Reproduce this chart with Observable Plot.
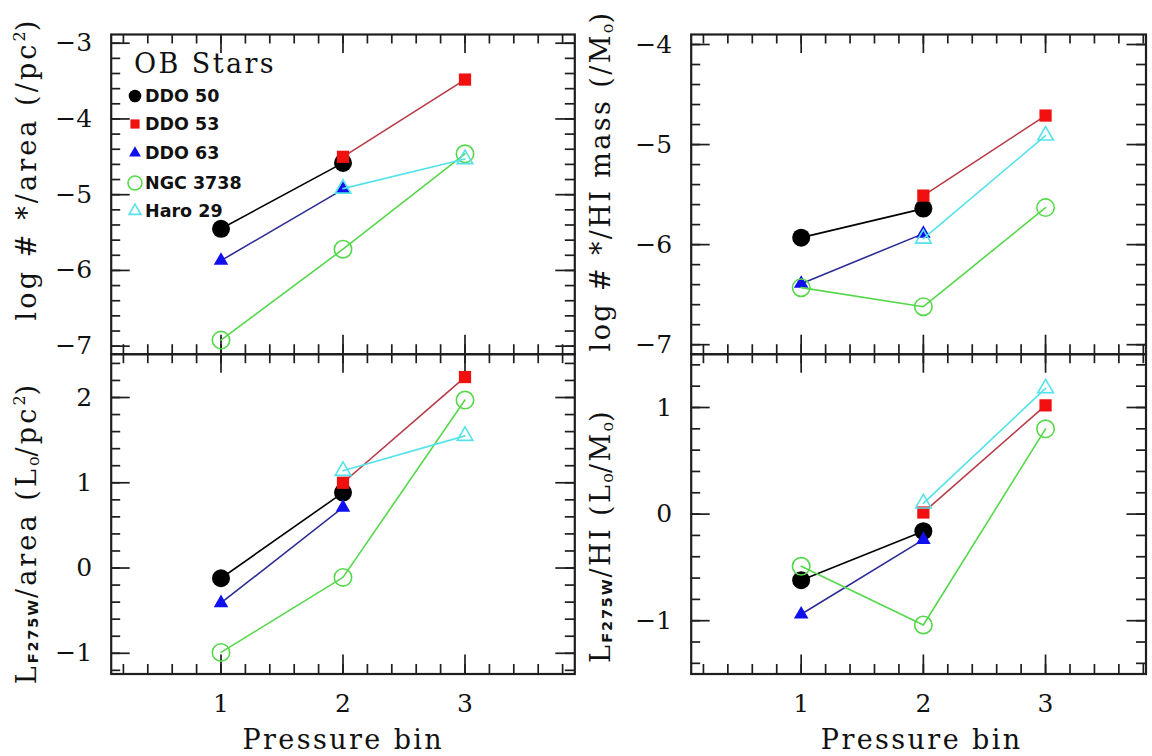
<!DOCTYPE html>
<html><head><meta charset="utf-8">
<script src="https://cdn.jsdelivr.net/npm/d3@7"></script>
<script src="https://cdn.jsdelivr.net/npm/@observablehq/plot@0.6"></script>
<style>
html,body{margin:0;padding:0;background:#fff;}
#fig{position:relative;width:1152px;height:756px;overflow:hidden;background:#fff;}
#fig svg{position:absolute;left:0;top:0;}
.ytitle{position:absolute;font-family:"DejaVu Serif";font-size:27px;letter-spacing:2.4px;line-height:1;white-space:nowrap;transform-origin:0 0;transform:rotate(-90deg) translateX(-50%);color:#111;}
.ytitle.wide{letter-spacing:3.1px;}
.xtitle{position:absolute;font-family:"DejaVu Serif";font-size:27px;letter-spacing:2.4px;line-height:1;white-space:nowrap;transform:translateX(-50%);color:#111;}
.sub{position:relative;font-size:16px;letter-spacing:0;top:3px;}
.sup{position:relative;font-size:16px;letter-spacing:0;top:-11px;}
.fsub{position:relative;font-family:"DejaVu Sans";font-weight:bold;font-size:14.5px;letter-spacing:1.8px;top:2px;}
.leg{position:absolute;left:125px;height:20px;display:flex;align-items:center;font-family:"DejaVu Sans";font-weight:bold;font-size:17.5px;color:#111;white-space:nowrap;}
.leg svg{position:static !important;}
#obstars{position:absolute;left:134px;top:50px;font-family:"DejaVu Serif";font-size:27px;letter-spacing:2.4px;line-height:1;color:#111;white-space:nowrap;}
</style></head>
<body><div id="fig"></div>
<script>
// ---------- data ----------
const galaxies = ["DDO 50", "DDO 53", "DDO 63", "NGC 3738", "Haro 29"];
const pressureBins = [1, 2, 3];
// log # OB stars / area (/pc^2), per galaxy, per pressure bin
const starsPerArea = [
  [-5.45, -4.58, null],
  [null, -4.50, -3.48],
  [-5.87, -4.93, null],
  [-6.92, -5.72, -4.46],
  [null, -4.92, -4.53]
];
// log # OB stars / HI mass (/Msun)
const starsPerHI = [
  [-5.93, -5.64, null],
  [null, -5.51, -4.71],
  [-6.39, -5.89, null],
  [-6.43, -6.62, -5.63],
  [null, -5.94, -4.91]
];
// L_F275W / area (Lsun/pc^2)
const lumPerArea = [
  [-0.12, 0.885, null],
  [null, 1.00, 2.24],
  [-0.41, 0.71, null],
  [-0.99, -0.11, 1.97],
  [null, 1.14, 1.55]
];
// L_F275W / HI (Lsun/Msun)
const lumPerHI = [
  [-0.62, -0.16, null],
  [null, 0.015, 1.02],
  [-0.94, -0.24, null],
  [-0.49, -1.04, 0.80],
  [null, 0.10, 1.18]
];
const xTickLabels = [1, 2, 3];
const yTicksStarsArea = [-7, -6, -5, -4, -3];
const yTicksStarsHI = [-7, -6, -5, -4];
const yTicksLumArea = [-1, 0, 1, 2];
const yTicksLumHI = [-1, 0, 1];

// ---------- styles ----------
const symbols = ["circle", "square", "triangle", "circle", "triangle"];
const markFill = ["#000000", "#f01010", "#1010ee", "none", "none"];
const markStroke = ["none", "none", "none", "#55d84a", "#55e2ea"];
const lineColor = ["#000000", "#b83a46", "#2c2c96", "#55d84a", "#55e2ea"];
const markR = [9, 6.9, 5.4, 8.7, 5.8];
const legendR = [6.3, 5.2, 4.4, 7.0, 4.4];

const W = 1152, H = 756;
const fmt = d => (d < 0 ? "\u2212" : "") + Math.abs(d);
const frameColor = "#1e1e1e";

function stepTicks(lo, hi) {
  const out = [];
  for (let k = Math.ceil(lo / 0.2 - 1e-9); k <= Math.floor(hi / 0.2 + 1e-9); k++) out.push(+(k * 0.2).toFixed(1));
  return out;
}

const panels = [
  {values: starsPerArea, frame: [110.7, 574.3, 34, 353.7], xDomain: [0.1, 3.9], yDomain: [-7.106, -2.885], majors: yTicksStarsArea, showX: false},
  {values: lumPerArea, frame: [110.7, 574.3, 353.7, 673.5], xDomain: [0.1, 3.9], yDomain: [-1.243, 2.508], majors: yTicksLumArea, showX: true},
  {values: starsPerHI, frame: [690.7, 1145.5, 34, 353.7], xDomain: [0.1, 3.822], yDomain: [-7.095, -3.9], majors: yTicksStarsHI, showX: false},
  {values: lumPerHI, frame: [690.7, 1145.5, 353.7, 673.5], xDomain: [0.1, 3.822], yDomain: [-1.5, 1.5], majors: yTicksLumHI, showX: true}
];

const fig = document.getElementById("fig");

for (const p of panels) {
  const [x0, x1, y0, y1] = p.frame;
  const iw = x1 - x0, ih = y1 - y0;
  const xMinor = stepTicks(p.xDomain[0], p.xDomain[1]);
  const yMinor = stepTicks(p.yDomain[0], p.yDomain[1]);
  const ts = {stroke: frameColor, strokeWidth: 1.7};
  const minorLen = 9.5, majorLen = 19;
  const marks = [
    Plot.tickY(yMinor, {y: d => d, insetRight: iw - minorLen, ...ts}),
    Plot.tickY(yMinor, {y: d => d, insetLeft: iw - minorLen, ...ts}),
    Plot.tickY(p.majors, {y: d => d, insetRight: iw - majorLen, ...ts}),
    Plot.tickY(p.majors, {y: d => d, insetLeft: iw - majorLen, ...ts}),
    Plot.tickX(xMinor, {x: d => d, insetBottom: ih - minorLen, ...ts}),
    Plot.tickX(xMinor, {x: d => d, insetTop: ih - minorLen, ...ts}),
    Plot.tickX(pressureBins, {x: d => d, insetBottom: ih - majorLen, ...ts}),
    Plot.tickX(pressureBins, {x: d => d, insetTop: ih - majorLen, ...ts}),
    Plot.frame({stroke: frameColor, strokeWidth: 2.2})
  ];
  galaxies.forEach((g, i) => {
    const pts = pressureBins.map((b, j) => ({bin: b, value: p.values[i][j]})).filter(d => d.value != null);
    marks.push(Plot.line(pts, {x: "bin", y: "value", stroke: lineColor[i], strokeWidth: 1.6}));
    marks.push(Plot.dot(pts, {x: "bin", y: "value", symbol: symbols[i], r: markR[i], fill: markFill[i], stroke: markStroke[i], strokeWidth: markStroke[i] === "none" ? 0 : 1.6}));
  });
  const svg = Plot.plot({
    width: W, height: H,
    marginLeft: x0, marginRight: W - x1, marginTop: y0, marginBottom: H - y1,
    x: p.showX ? {domain: p.xDomain, ticks: xTickLabels, tickSize: 0, tickPadding: 20, label: null, tickFormat: d => String(d)} : {domain: p.xDomain, axis: null},
    y: {domain: p.yDomain, ticks: p.majors, tickSize: 0, tickPadding: 19, label: null, tickFormat: fmt},
    style: {background: "transparent", fontFamily: "DejaVu Serif", fontSize: "25px", color: "#111", overflow: "visible"},
    marks
  });
  fig.appendChild(svg);
}

// ---------- axis titles ----------
function addTitle(cls, html, left, top) {
  const d = document.createElement("div");
  d.className = cls;
  d.innerHTML = html;
  d.style.left = left + "px";
  d.style.top = top + "px";
  fig.appendChild(d);
}
addTitle("ytitle wide", 'log # */area (/pc<span class="sup">2</span>)', 12.7, 168.5);
addTitle("ytitle wide", 'L<span class="fsub">F275W</span>/area (L<span class="sub">o</span>/pc<span class="sup">2</span>)', 12.7, 533);
addTitle("ytitle", 'log # */HI mass (/M<span class="sub">o</span>)', 587, 181);
addTitle("ytitle", 'L<span class="fsub">F275W</span>/HI (L<span class="sub">o</span>/M<span class="sub">o</span>)', 587, 536);
addTitle("xtitle", "Pressure bin", 343.3, 726);
addTitle("xtitle", "Pressure bin", 921.7, 726);

// ---------- legend ----------
const ob = document.createElement("div");
ob.id = "obstars";
ob.textContent = "OB Stars";
fig.appendChild(ob);
const legendY = [96, 124.3, 152.7, 182.7, 210.7];
const symMap = {circle: d3.symbolCircle, square: d3.symbolSquare, triangle: d3.symbolTriangle};
galaxies.forEach((g, i) => {
  const row = document.createElement("div");
  row.className = "leg";
  row.style.top = (legendY[i] - 10) + "px";
  const ns = "http://www.w3.org/2000/svg";
  const s = document.createElementNS(ns, "svg");
  s.setAttribute("width", 20); s.setAttribute("height", 20);
  const path = document.createElementNS(ns, "path");
  path.setAttribute("d", d3.symbol(symMap[symbols[i]], Math.PI * legendR[i] * legendR[i])());
  path.setAttribute("transform", "translate(10,10)");
  path.setAttribute("fill", markFill[i]);
  path.setAttribute("stroke", markStroke[i]);
  path.setAttribute("stroke-width", 1.6);
  s.appendChild(path);
  row.appendChild(s);
  const t = document.createElement("span");
  t.textContent = g;
  row.appendChild(t);
  fig.appendChild(row);
});
</script>
</body></html>
